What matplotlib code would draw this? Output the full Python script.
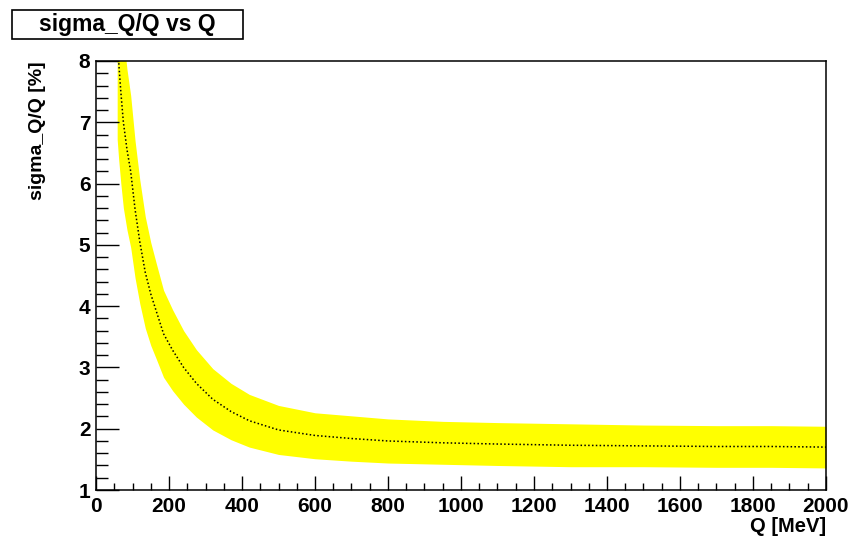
import matplotlib
matplotlib.use('Agg')
import matplotlib.pyplot as plt
from matplotlib.patches import Rectangle
from matplotlib.ticker import MultipleLocator

# ---- data ----
q_mev = [58, 62, 68, 75, 85, 95, 107, 120, 135, 150, 165, 185, 210, 240, 275,
         320, 370, 420, 500, 600, 700, 800, 950, 1100, 1300, 1500, 1700, 1850, 2000]
sigma_center = [8.40, 8.00, 7.50, 7.00, 6.55, 6.20, 5.58, 5.05, 4.55, 4.20, 3.92,
                3.55, 3.28, 3.00, 2.74, 2.48, 2.28, 2.13, 1.98, 1.89, 1.84, 1.80,
                1.77, 1.75, 1.73, 1.72, 1.71, 1.71, 1.70]
sigma_low = [6.72, 6.40, 6.00, 5.60, 5.24, 4.96, 4.46, 4.04, 3.64, 3.36, 3.14,
             2.84, 2.62, 2.40, 2.19, 1.98, 1.82, 1.70, 1.58, 1.51, 1.47, 1.44,
             1.42, 1.40, 1.38, 1.38, 1.37, 1.37, 1.36]
sigma_high = [10.08, 9.60, 9.00, 8.40, 7.86, 7.44, 6.70, 6.06, 5.46, 5.04, 4.70,
              4.26, 3.94, 3.60, 3.29, 2.98, 2.74, 2.56, 2.38, 2.26, 2.21, 2.16,
              2.12, 2.10, 2.08, 2.06, 2.05, 2.05, 2.04]
x_ticks = [0, 200, 400, 600, 800, 1000, 1200, 1400, 1600, 1800, 2000]
y_ticks = [1, 2, 3, 4, 5, 6, 7, 8]

plt.rcParams['font.family'] = ['Liberation Sans', 'DejaVu Sans']
plt.rcParams['font.weight'] = 'bold'

W, H = 850, 536
fig = plt.figure(figsize=(W / 100, H / 100), dpi=100)
fig.patch.set_facecolor('white')

ax = fig.add_axes([96 / W, 1 - 490 / H, 730 / W, 429 / H])
ax.fill_between(q_mev, sigma_low, sigma_high, color='#ffff00', lw=0, zorder=1)
ax.plot(q_mev, sigma_center, color='black', lw=1.1, ls=(0, (1, 1.5)), zorder=2)

ax.set_xlim(0, 2000)
ax.set_ylim(1, 8)
ax.set_xticks(x_ticks)
ax.set_yticks(y_ticks)
ax.xaxis.set_minor_locator(MultipleLocator(50))
ax.yaxis.set_minor_locator(MultipleLocator(0.2))

ax.tick_params(axis='x', which='major', direction='in', length=10, width=1.0,
               labelsize=15, pad=5, top=False)
ax.tick_params(axis='x', which='minor', direction='in', length=5, width=1.0, top=False)
ax.tick_params(axis='y', which='major', direction='in', length=16.5, width=1.0,
               labelsize=15, pad=4, right=False)
ax.tick_params(axis='y', which='minor', direction='in', length=8.5, width=1.0, right=False)
for sp in ax.spines.values():
    sp.set_linewidth(1.1)

# axis titles (ROOT style, aligned to the ends)
fig.text(38 / W, 1 - 61 / H, 'sigma_Q/Q [%]', rotation=90, ha='center', va='top',
         fontsize=14, fontweight='bold')
fig.text(826 / W, 1 - 527 / H, 'Q [MeV]', ha='right', va='center',
         fontsize=14.5, fontweight='bold')

# title box
fig.patches.append(Rectangle((12 / W, 1 - 39 / H), 231 / W, 29 / H,
                             transform=fig.transFigure, facecolor='white',
                             edgecolor='black', lw=1.2))
fig.text(127.5 / W, 1 - 24.5 / H, 'sigma_Q/Q vs Q', ha='center', va='center',
         fontsize=16.5, fontweight='bold')

fig.savefig('out.png', dpi=100)
